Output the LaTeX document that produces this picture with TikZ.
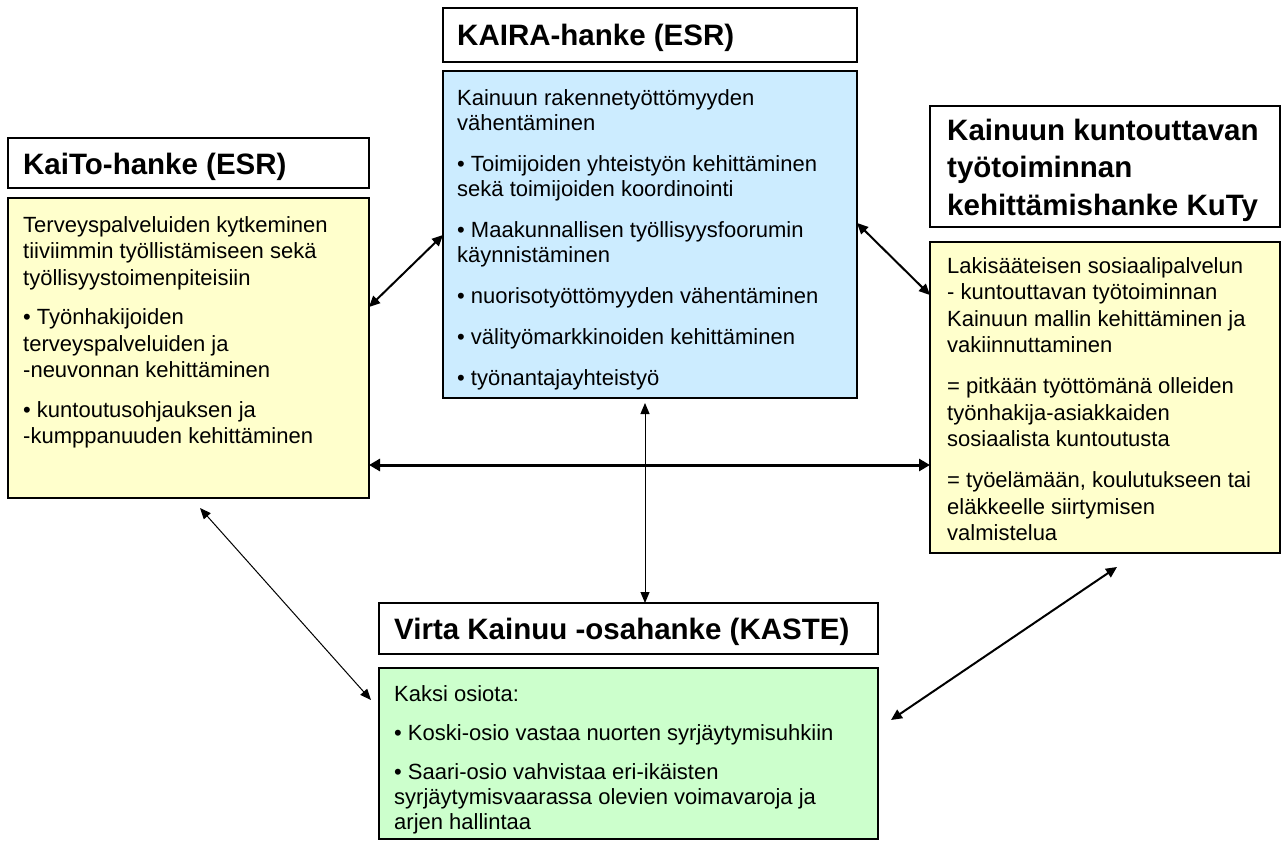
\documentclass[tikz,border=0pt]{standalone}
\usepackage{fontspec}
\setmainfont{Liberation Sans}
\usetikzlibrary{arrows.meta,calc}
\newcommand{\Ln}[1]{\hbox{#1}}
\newcommand{\Gap}[1]{\vskip #1pt}
\tikzset{
  box/.style={draw=black, line width=2pt, rectangle, inner sep=0pt, outer sep=0pt, anchor=north west},
  titlebox/.style={box, fill=white},
  ybox/.style={box, fill=yellowbg},
  bbox/.style={box, fill=bluebg},
  gbox/.style={box, fill=greenbg},
  ttext/.style={anchor=base west, inner sep=0pt, font=\fontsize{29.5}{37.5}\selectfont\bfseries},
  btext/.style={anchor=base west, inner sep=0pt, font=\fontsize{22}{26}\selectfont},
  biglink/.style={line width=3pt, {Triangle[length=11pt,width=12pt]}-{Triangle[length=11pt,width=12pt]}},
  midlink/.style={line width=2pt, {Triangle[length=11pt,width=10pt]}-{Triangle[length=11pt,width=10pt]}},
  thinlink/.style={line width=1pt, {Triangle[length=11pt,width=9pt]}-{Triangle[length=11pt,width=9pt]}}
}
\definecolor{yellowbg}{HTML}{FFFFCC}
\definecolor{bluebg}{HTML}{CCECFF}
\definecolor{greenbg}{HTML}{CCFFCC}
\begin{document}
\begin{tikzpicture}[x=1pt,y=-1pt]
\useasboundingbox (0,0) rectangle (1283,841);

% boxes
\node[titlebox, minimum width=414pt, minimum height=54pt] (kairaT) at (443,8) {};
\node[bbox, minimum width=414pt, minimum height=327pt] (kairaB) at (443,71) {};
\node[titlebox, minimum width=361pt, minimum height=50pt] (kaitoT) at (8,138) {};
\node[ybox, minimum width=361pt, minimum height=300pt] (kaitoB) at (8,198) {};
\node[titlebox, minimum width=350pt, minimum height=121pt] (kutyT) at (930,106) {};
\node[ybox, minimum width=350pt, minimum height=311pt] (kutyB) at (930,242) {};
\node[titlebox, minimum width=499pt, minimum height=51pt] (virtaT) at (379,603) {};
\node[gbox, minimum width=499pt, minimum height=171pt] (virtaB) at (379,668) {};

% titles
\node[ttext] (kairaTt) at (457,45) {KAIRA-hanke (ESR)};
\node[ttext] (kaitoTt) at (23,174) {KaiTo-hanke (ESR)};
\node[ttext] (kutyTt) at (947,140) {\vtop{\baselineskip=37.5pt\lineskiplimit=-50pt
  \Ln{Kainuun kuntouttavan}\Ln{työtoiminnan}\Ln{kehittämishanke KuTy}}};
\node[ttext] (virtaTt) at (394,639) {Virta Kainuu -osahanke (KASTE)};

% body texts
\node[btext] (kairaBt) at (457,105) {\vtop{\baselineskip=25pt\lineskiplimit=-50pt
  \Ln{Kainuun rakennetyöttömyyden}\Ln{vähentäminen}\Gap{16}
  \Ln{• Toimijoiden yhteistyön kehittäminen}\Ln{sekä toimijoiden koordinointi}\Gap{16}
  \Ln{• Maakunnallisen työllisyysfoorumin}\Ln{käynnistäminen}\Gap{16}
  \Ln{• nuorisotyöttömyyden vähentäminen}\Gap{16}
  \Ln{• välityömarkkinoiden kehittäminen}\Gap{16}
  \Ln{• työnantajayhteistyö}}};

\node[btext] (kaitoBt) at (23,232) {\vtop{\baselineskip=26.5pt\lineskiplimit=-50pt
  \Ln{Terveyspalveluiden kytkeminen}\Ln{tiiviimmin työllistämiseen sekä}\Ln{työllisyystoimenpiteisiin}\Gap{13}
  \Ln{• Työnhakijoiden}\Ln{terveyspalveluiden ja}\Ln{-neuvonnan kehittäminen}\Gap{13}
  \Ln{• kuntoutusohjauksen ja}\Ln{-kumppanuuden kehittäminen}}};

\node[btext] (kutyBt) at (947,273) {\vtop{\baselineskip=26.5pt\lineskiplimit=-50pt
  \Ln{Lakisääteisen sosiaalipalvelun}\Ln{- kuntouttavan työtoiminnan}\Ln{Kainuun mallin kehittäminen ja}\Ln{vakiinnuttaminen}\Gap{14.5}
  \Ln{= pitkään työttömänä olleiden}\Ln{työnhakija-asiakkaiden}\Ln{sosiaalista kuntoutusta}\Gap{14.5}
  \Ln{= työelämään, koulutukseen tai}\Ln{eläkkeelle siirtymisen}\Ln{valmistelua}}};

\node[btext] (virtaBt) at (394,701) {\vtop{\baselineskip=25pt\lineskiplimit=-50pt
  \Ln{Kaksi osiota:}\Gap{14}
  \Ln{• Koski-osio vastaa nuorten syrjäytymisuhkiin}\Gap{14}
  \Ln{• Saari-osio vahvistaa eri-ikäisten}\Ln{syrjäytymisvaarassa olevien voimavaroja ja}\Ln{arjen hallintaa}}};

% connector end points
\coordinate (c5a) at ($(kaitoB.south west)+(192,10)$);
\coordinate (c5b) at ($(virtaB.north west)+(-8,32)$);
\coordinate (c6a) at ($(kutyB.south west)+(187,14)$);
\coordinate (c6b) at ($(virtaB.north east)+(13,52)$);

% connectors
\draw[midlink] ($(kaitoB.north east)+(0,109)$) -- ($(kairaB.north west)+(0,164)$);
\draw[midlink] ($(kairaB.north east)+(0,152)$) -- ($(kutyB.north west)+(0,53)$);
\draw[biglink] ($(kaitoB.north east)+(0,267)$) -- ($(kutyB.north west)+(0,223)$);
\draw[thinlink] ($(kairaB.south west)+(202,5)$) -- ($(virtaT.north west)+(266,0)$);
\draw[thinlink] (c5a) -- (c5b);
\draw[midlink] (c6a) -- (c6b);
\end{tikzpicture}
\end{document}
